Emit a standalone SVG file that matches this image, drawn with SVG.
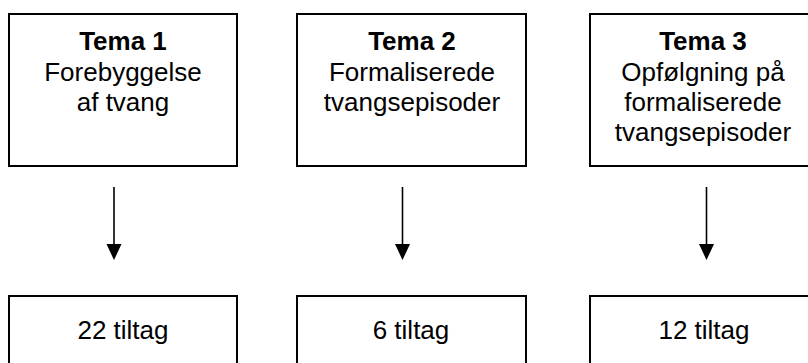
<svg xmlns="http://www.w3.org/2000/svg" width="808" height="363" viewBox="0 0 808 363">
  <style>
    .box { fill: #ffffff; stroke: #000000; stroke-width: 2; }
    .txt { font-family: "Liberation Sans", Arial, sans-serif; font-size: 26px; fill: #000000; text-anchor: middle; }
    .bold { font-weight: bold; }
    .edge { stroke: #000000; stroke-width: 1.6; fill: none; }
    .head { fill: #000000; stroke: none; }
  </style>
  <rect width="808" height="363" fill="#ffffff"/>

  <!-- theme boxes -->
  <g id="tema1">
    <rect class="box" x="9" y="14" width="228" height="152"/>
    <text class="txt bold" x="123" y="50">Tema 1</text>
    <text class="txt" x="123" y="81">Forebyggelse</text>
    <text class="txt" x="123" y="111">af tvang</text>
  </g>
  <g id="tema2">
    <rect class="box" x="297" y="14" width="229" height="152"/>
    <text class="txt bold" x="412" y="50">Tema 2</text>
    <text class="txt" x="412" y="81">Formaliserede</text>
    <text class="txt" x="412" y="111">tvangsepisoder</text>
  </g>
  <g id="tema3">
    <rect class="box" x="590" y="14" width="228" height="152"/>
    <text class="txt bold" x="703" y="50">Tema 3</text>
    <text class="txt" x="703" y="81">Opfølgning på</text>
    <text class="txt" x="703" y="111">formaliserede</text>
    <text class="txt" x="703" y="141">tvangsepisoder</text>
  </g>

  <!-- measure count boxes -->
  <g id="tiltag1">
    <rect class="box" x="9" y="296" width="228" height="100"/>
    <text class="txt" x="123" y="339">22 tiltag</text>
  </g>
  <g id="tiltag2">
    <rect class="box" x="297" y="296" width="229" height="100"/>
    <text class="txt" x="411" y="339">6 tiltag</text>
  </g>
  <g id="tiltag3">
    <rect class="box" x="590" y="296" width="228" height="100"/>
    <text class="txt" x="704" y="339">12 tiltag</text>
  </g>

  <!-- connectors -->
  <g id="connectors">
    <line class="edge" x1="114" y1="187" x2="114" y2="246"/>
    <polygon class="head" points="106.5,244 121.5,244 114,260"/>
    <line class="edge" x1="402.5" y1="187" x2="402.5" y2="246"/>
    <polygon class="head" points="395,244 410,244 402.5,260"/>
    <line class="edge" x1="706.5" y1="187" x2="706.5" y2="246"/>
    <polygon class="head" points="699,244 714,244 706.5,260"/>
  </g>
</svg>
